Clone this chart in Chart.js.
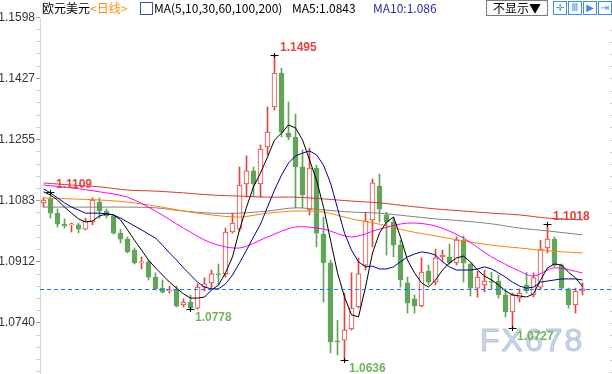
<!DOCTYPE html>
<html>
<head>
<meta charset="utf-8">
<script src="https://cdn.jsdelivr.net/npm/chart.js@4.4.1/dist/chart.umd.min.js"></script>
<style>
  html, body { margin: 0; padding: 0; background: #fff; }
  #wrap { position: relative; width: 612px; height: 374px; overflow: hidden; }
  #c { position: absolute; left: 0; top: 0; }
  .hd { position: absolute; top: 0; font: 12px "Noto Sans CJK SC", "Liberation Sans", sans-serif; line-height: 16px; white-space: nowrap; color: #000; }
  .btn { position: absolute; top: 0; height: 14px; border: 1px solid #7a7a7a; font: 12px "Noto Sans CJK SC", sans-serif; line-height: 14px; text-align: center; }
  .ico { position: absolute; top: 1px; width: 12px; height: 12px; border: 1px solid #3a8ee0; color: #3a8ee0; font: 10px "DejaVu Sans", sans-serif; line-height: 12px; text-align: center; }
</style>
</head>
<body>
<div id="wrap">
  <canvas id="c" width="612" height="374"></canvas>
  <div class="hd" style="left:42px">欧元美元<span style="color:#ff8c1a">&lt;日线&gt;</span></div>
  <div class="hd" style="left:140px;top:2px;width:11px;height:11px;border:1px solid #3355aa;"></div>
  <div class="hd" style="left:154px">MA(5,10,30,60,100,200)</div>
  <div class="hd" style="left:292px">MA5:1.0843</div>
  <div class="hd" style="left:373px;color:#2a2aa8">MA10:1.086</div>
  <div class="btn" style="left:486px;width:60px">不显示▼</div>
  <div class="ico" style="left:553px">✛</div>
  <div class="ico" style="left:568px">Ⅲ</div>
  <div class="ico" style="left:583px">▶</div>
  <div class="ico" style="left:598px">⇥</div>
</div>
<script>
// daily candles, EUR/USD
const opens = [
  1.1078, 1.1089, 1.1049, 1.1018, 1.1016, 1.1016, 1.1004, 1.1024, 1.1080, 1.1055,
  1.1041, 1.0993, 1.0976, 1.0945, 1.0909, 1.0912, 1.0869, 1.0838, 1.0830, 1.0833,
  1.0791, 1.0799, 1.0782, 1.0841, 1.0853, 1.0878, 1.0878, 1.0996, 1.1004, 1.1131,
  1.1168, 1.1131, 1.1235, 1.1348, 1.1443, 1.1274, 1.1263, 1.1179, 1.1058, 1.1176,
  1.0990, 1.0909, 1.0689, 1.0692, 1.0723, 1.0785, 1.0903, 1.1030, 1.1125, 1.1044,
  1.1024, 1.0959, 1.0853, 1.0808, 1.0788, 1.0886, 1.0855, 1.0926, 1.0926, 1.0909,
  1.0973, 1.0906, 1.0838, 1.0847, 1.0858, 1.0858, 1.0819, 1.0771, 1.0810, 1.0847,
  1.0819, 1.0841, 1.0951, 1.0976, 1.0903, 1.0836, 1.0791, 1.0830
];
const highs = [
  1.1092, 1.1109, 1.1061, 1.1033, 1.1021, 1.1021, 1.1035, 1.1092, 1.1092, 1.1061,
  1.1044, 1.1004, 1.0982, 1.0951, 1.0926, 1.0917, 1.0881, 1.0861, 1.0844, 1.0844,
  1.0808, 1.0819, 1.0850, 1.0867, 1.0889, 1.0906, 1.1007, 1.1049, 1.1179, 1.1210,
  1.1179, 1.1241, 1.1348, 1.1495, 1.1457, 1.1362, 1.1328, 1.1227, 1.1232, 1.1184,
  1.1038, 1.0917, 1.0748, 1.0824, 1.0881, 1.0923, 1.1052, 1.1145, 1.1159, 1.1052,
  1.1038, 1.0973, 1.0869, 1.0819, 1.0923, 1.0903, 1.0948, 1.0945, 1.0962, 1.0982,
  1.0985, 1.0909, 1.0886, 1.0889, 1.0883, 1.0875, 1.0836, 1.0824, 1.0836, 1.0883,
  1.0881, 1.0973, 1.1018, 1.0982, 1.0906, 1.0838, 1.0838, 1.0853
];
const lows = [
  1.1066, 1.1035, 1.1010, 1.1007, 1.0996, 1.0993, 1.1002, 1.1016, 1.1035, 1.1035,
  1.0990, 1.0965, 1.0937, 1.0906, 1.0892, 1.0861, 1.0833, 1.0824, 1.0824, 1.0785,
  1.0785, 1.0778, 1.0779, 1.0830, 1.0838, 1.0847, 1.0869, 1.0993, 1.0999, 1.1094,
  1.1094, 1.1094, 1.1213, 1.1339, 1.1263, 1.1255, 1.1064, 1.1064, 1.1044, 1.0954,
  1.0799, 1.0656, 1.0650, 1.0636, 1.0720, 1.0782, 1.0889, 1.0954, 1.1024, 1.0931,
  1.0926, 1.0841, 1.0768, 1.0768, 1.0785, 1.0847, 1.0847, 1.0914, 1.0906, 1.0903,
  1.0855, 1.0816, 1.0813, 1.0827, 1.0836, 1.0810, 1.0757, 1.0727, 1.0799, 1.0824,
  1.0813, 1.0833, 1.0937, 1.0898, 1.0833, 1.0782, 1.0768, 1.0819
];
const closes = [
  1.1086, 1.1049, 1.1018, 1.1013, 1.1018, 1.1004, 1.1027, 1.1086, 1.1055, 1.1041,
  1.0993, 1.0976, 1.0940, 1.0909, 1.0912, 1.0869, 1.0836, 1.0827, 1.0833, 1.0788,
  1.0799, 1.0782, 1.0841, 1.0850, 1.0878, 1.0875, 1.0996, 1.1021, 1.1128, 1.1168,
  1.1131, 1.1229, 1.1277, 1.1443, 1.1277, 1.1263, 1.1179, 1.1100, 1.1176, 1.0993,
  1.0909, 1.0687, 1.0687, 1.0720, 1.0782, 1.0878, 1.1027, 1.1134, 1.1060, 1.1024,
  1.0959, 1.0861, 1.0796, 1.0788, 1.0883, 1.0855, 1.0923, 1.0931, 1.0909, 1.0973,
  1.0909, 1.0838, 1.0869, 1.0858, 1.0855, 1.0819, 1.0771, 1.0819, 1.0824, 1.0830,
  1.0867, 1.0948, 1.0976, 1.0903, 1.0838, 1.0791, 1.0830, 1.0836
];

// short moving averages, one value per candle
const ma5 = [
  1.1109, 1.1100, 1.1086, 1.1066, 1.1049, 1.1033, 1.1024, 1.1027, 1.1041, 1.1047,
  1.1044, 1.1030, 1.1002, 1.0973, 1.0945, 1.0917, 1.0895, 1.0875, 1.0855, 1.0838,
  1.0822, 1.0810, 1.0810, 1.0813, 1.0833, 1.0847, 1.0881, 1.0926, 1.1002, 1.1066,
  1.1123, 1.1162, 1.1207, 1.1255, 1.1274, 1.1297, 1.1289, 1.1255, 1.1199, 1.1142,
  1.1066, 1.0973, 1.0881, 1.0813, 1.0763, 1.0757, 1.0841, 1.0937, 1.0993, 1.1024,
  1.1038, 1.0982, 1.0917, 1.0881, 1.0853, 1.0841, 1.0861, 1.0889, 1.0909, 1.0923,
  1.0928, 1.0912, 1.0889, 1.0872, 1.0861, 1.0847, 1.0830, 1.0819, 1.0816, 1.0813,
  1.0822, 1.0861, 1.0895, 1.0906, 1.0903, 1.0883, 1.0867, 1.0843
];
const ma10 = [
  1.1117, 1.1106, 1.1092, 1.1078, 1.1066, 1.1058, 1.1049, 1.1049, 1.1049, 1.1047,
  1.1044, 1.1035, 1.1024, 1.1013, 1.1002, 1.0990, 1.0979, 1.0959, 1.0937, 1.0917,
  1.0895, 1.0875, 1.0855, 1.0841, 1.0836, 1.0836, 1.0850, 1.0875, 1.0909, 1.0945,
  1.0982, 1.1018, 1.1066, 1.1114, 1.1156, 1.1190, 1.1210, 1.1218, 1.1224, 1.1213,
  1.1184, 1.1134, 1.1063, 1.0993, 1.0945, 1.0912, 1.0898, 1.0900, 1.0892, 1.0892,
  1.0898, 1.0912, 1.0926, 1.0934, 1.0940, 1.0937, 1.0931, 1.0912, 1.0898, 1.0889,
  1.0889, 1.0889, 1.0892, 1.0898, 1.0892, 1.0881, 1.0869, 1.0855, 1.0844, 1.0838,
  1.0841, 1.0855, 1.0858, 1.0861, 1.0864, 1.0864, 1.0864, 1.0861
];

// long moving averages, read at sample candles
const longDays = [1, 5, 9, 13, 17, 21, 25, 29, 33, 37, 41, 45, 49, 53, 57, 61, 65, 69, 73, 78];
const ma200 = [1.1134, 1.1128, 1.1123, 1.1114, 1.1111, 1.1106, 1.1100, 1.1097, 1.1094, 1.1094,
               1.1089, 1.1083, 1.1078, 1.1069, 1.1061, 1.1055, 1.1049, 1.1044, 1.1035, 1.1030];
const ma100 = [1.1066, 1.1066, 1.1066, 1.1066, 1.1064, 1.1055, 1.1049, 1.1049, 1.1055, 1.1064,
               1.1058, 1.1052, 1.1049, 1.1041, 1.1033, 1.1027, 1.1019, 1.1007, 1.0999, 1.0988];
const ma60 = [1.1092, 1.1089, 1.1086, 1.1080, 1.1069, 1.1055, 1.1044, 1.1038, 1.1049, 1.1055,
              1.1052, 1.1033, 1.1018, 1.0999, 1.0985, 1.0971, 1.0959, 1.0951, 1.0943, 1.0937];
const ma30Days = [1, 5, 9, 13, 17, 21, 25, 29, 33, 37, 41, 45, 49, 53, 57, 61, 65, 69, 71, 74, 78];
const ma30 = [1.1128, 1.1120, 1.1109, 1.1094, 1.1055, 1.1007, 1.0965, 1.0951, 1.0982, 1.1010,
              1.1004, 1.0982, 1.1004, 1.1021, 1.1013, 1.0979, 1.0926, 1.0886, 1.0872, 1.0895, 1.0881];

const yTicks = [1.0740, 1.0912, 1.1083, 1.1255, 1.1427, 1.1598];
const lastPrice = 1.0836;
const highMarks = [[2, 1.1109], [34, 1.1495], [73, 1.1018]];
const lowMarks = [[22, 1.0778], [44, 1.0636], [68, 1.0727]];

const UP = "#e2453c";
const DOWN = "#62a45a";

const days = opens.map((_, i) => i + 1);
const isUp = i => closes[i] >= opens[i];
const pts = (xs, ys) => xs.map((x, i) => ({ x, y: ys[i] }));

// minor ticks: 5 steps between labelled ticks
const step = (yTicks[1] - yTicks[0]) / 5;
const allTicks = [];
for (let k = -4; k <= 25; k++) allTicks.push(yTicks[0] + k * step);
const majorOf = v => yTicks.find(t => Math.abs(t - v) < 0.0004);

const maLine = (label, data, color, tension) => ({
  type: "line",
  label,
  data,
  borderColor: color,
  borderWidth: 1,
  pointRadius: 0,
  tension: tension || 0,
  order: 0,
});

const extras = {
  id: "extras",
  afterDatasetsDraw(chart) {
    const { ctx, chartArea, scales } = chart;
    const x = scales.x, y = scales.y;
    ctx.save();

    // right edge tick dots
    ctx.fillStyle = "#c4c4c4";
    allTicks.forEach(v => {
      const py = Math.round(y.getPixelForValue(v));
      if (py > chartArea.top + 6) ctx.fillRect(610, py, 2, 1);
    });

    // last price line, drawn as dashes
    const py = Math.round(y.getPixelForValue(lastPrice));
    ctx.fillStyle = "#1a78f0";
    for (let px = chartArea.left; px < chartArea.right; px += 7) {
      ctx.fillRect(px, py, 4, 1);
    }

    // watermark
    ctx.font = "32px 'Liberation Sans', sans-serif";
    ctx.letterSpacing = "2px";
    ctx.textBaseline = "alphabetic";
    ctx.textAlign = "left";
    ctx.fillStyle = "rgba(196,210,228,0.85)";
    ctx.strokeStyle = "rgba(150,170,200,0.6)";
    ctx.fillText("FX678", 480, 351);
    ctx.strokeText("FX678", 480, 351);
    ctx.letterSpacing = "0px";

    // extreme markers
    const cross = (px, py) => {
      ctx.strokeStyle = "#000";
      ctx.lineWidth = 1;
      ctx.beginPath();
      ctx.moveTo(px - 3.5, py + 0.5); ctx.lineTo(px + 4.5, py + 0.5);
      ctx.moveTo(px + 0.5, py - 2); ctx.lineTo(px + 0.5, py + 3);
      ctx.stroke();
    };
    ctx.font = "bold 12px 'Liberation Sans', sans-serif";
    ctx.textBaseline = "middle";
    highMarks.forEach(([d, v]) => {
      const px = Math.floor(x.getPixelForValue(d)), pv = Math.round(y.getPixelForValue(v));
      cross(px, pv);
      ctx.fillStyle = UP;
      ctx.fillText(v.toFixed(4), px + 6, pv - 7);
    });
    lowMarks.forEach(([d, v]) => {
      const px = Math.floor(x.getPixelForValue(d)), pv = Math.round(y.getPixelForValue(v));
      cross(px, pv);
      ctx.fillStyle = "#72b45e";
      ctx.fillText(v.toFixed(4), px + 5, pv + 9);
    });
    ctx.restore();
  },
};

new Chart(document.getElementById("c"), {
  type: "bar",
  data: {
    datasets: [
      maLine("MA5", pts(days, ma5), "#000000"),
      maLine("MA10", pts(days, ma10), "#00008b"),
      maLine("MA30", pts(ma30Days, ma30), "#ff00ff", 0.3),
      maLine("MA60", pts(longDays, ma60), "#ff8000", 0.3),
      maLine("MA100", pts(longDays, ma100), "#808080", 0.3),
      maLine("MA200", pts(longDays, ma200), "#d03a3a", 0.3),
      {
        label: "body",
        data: days.map((d, i) => ({ x: d, y: [opens[i], closes[i]] })),
        backgroundColor: days.map((d, i) => (isUp(i) ? "#ffffff" : DOWN)),
        borderColor: days.map((d, i) => (isUp(i) ? UP : DOWN)),
        borderWidth: 1,
        borderSkipped: false,
        barThickness: 5,
        minBarLength: 1,
        grouped: false,
        order: 1,
      },
      {
        label: "wick",
        data: days.map((d, i) => ({ x: d, y: [lows[i], highs[i]] })),
        backgroundColor: days.map((d, i) => (isUp(i) ? UP : DOWN)),
        borderWidth: 0,
        barThickness: 1,
        grouped: false,
        order: 2,
      },
    ],
  },
  options: {
    responsive: false,
    animation: false,
    events: [],
    layout: { padding: { top: 18, right: 0, bottom: 0, left: 0 } },
    plugins: { legend: { display: false }, tooltip: { enabled: false } },
    scales: {
      x: {
        type: "linear",
        display: false,
        offset: false,
        min: 0.5,
        max: 0.5 + 572 / 7,
      },
      y: {
        min: 1.05965,
        max: 1.1598,
        afterBuildTicks: s => { s.ticks = allTicks.map(v => ({ value: v })); },
        afterFit: s => { s.width = 40; s.paddingTop = 0; s.paddingBottom = 0; },
        ticks: {
          autoSkip: false,
          padding: 1,
          color: "#333",
          font: { family: "'Liberation Sans', sans-serif", size: 12 },
          callback: v => { const t = majorOf(v); return t ? t.toFixed(4) : ""; },
        },
        grid: {
          drawOnChartArea: false,
          tickLength: 4,
          tickColor: c => (majorOf(c.tick.value) ? "#9aa4aa" : "#c8d0d4"),
        },
        border: { color: "#cfdbe2" },
      },
    },
  },
  plugins: [extras],
});
</script>
</body>
</html>
